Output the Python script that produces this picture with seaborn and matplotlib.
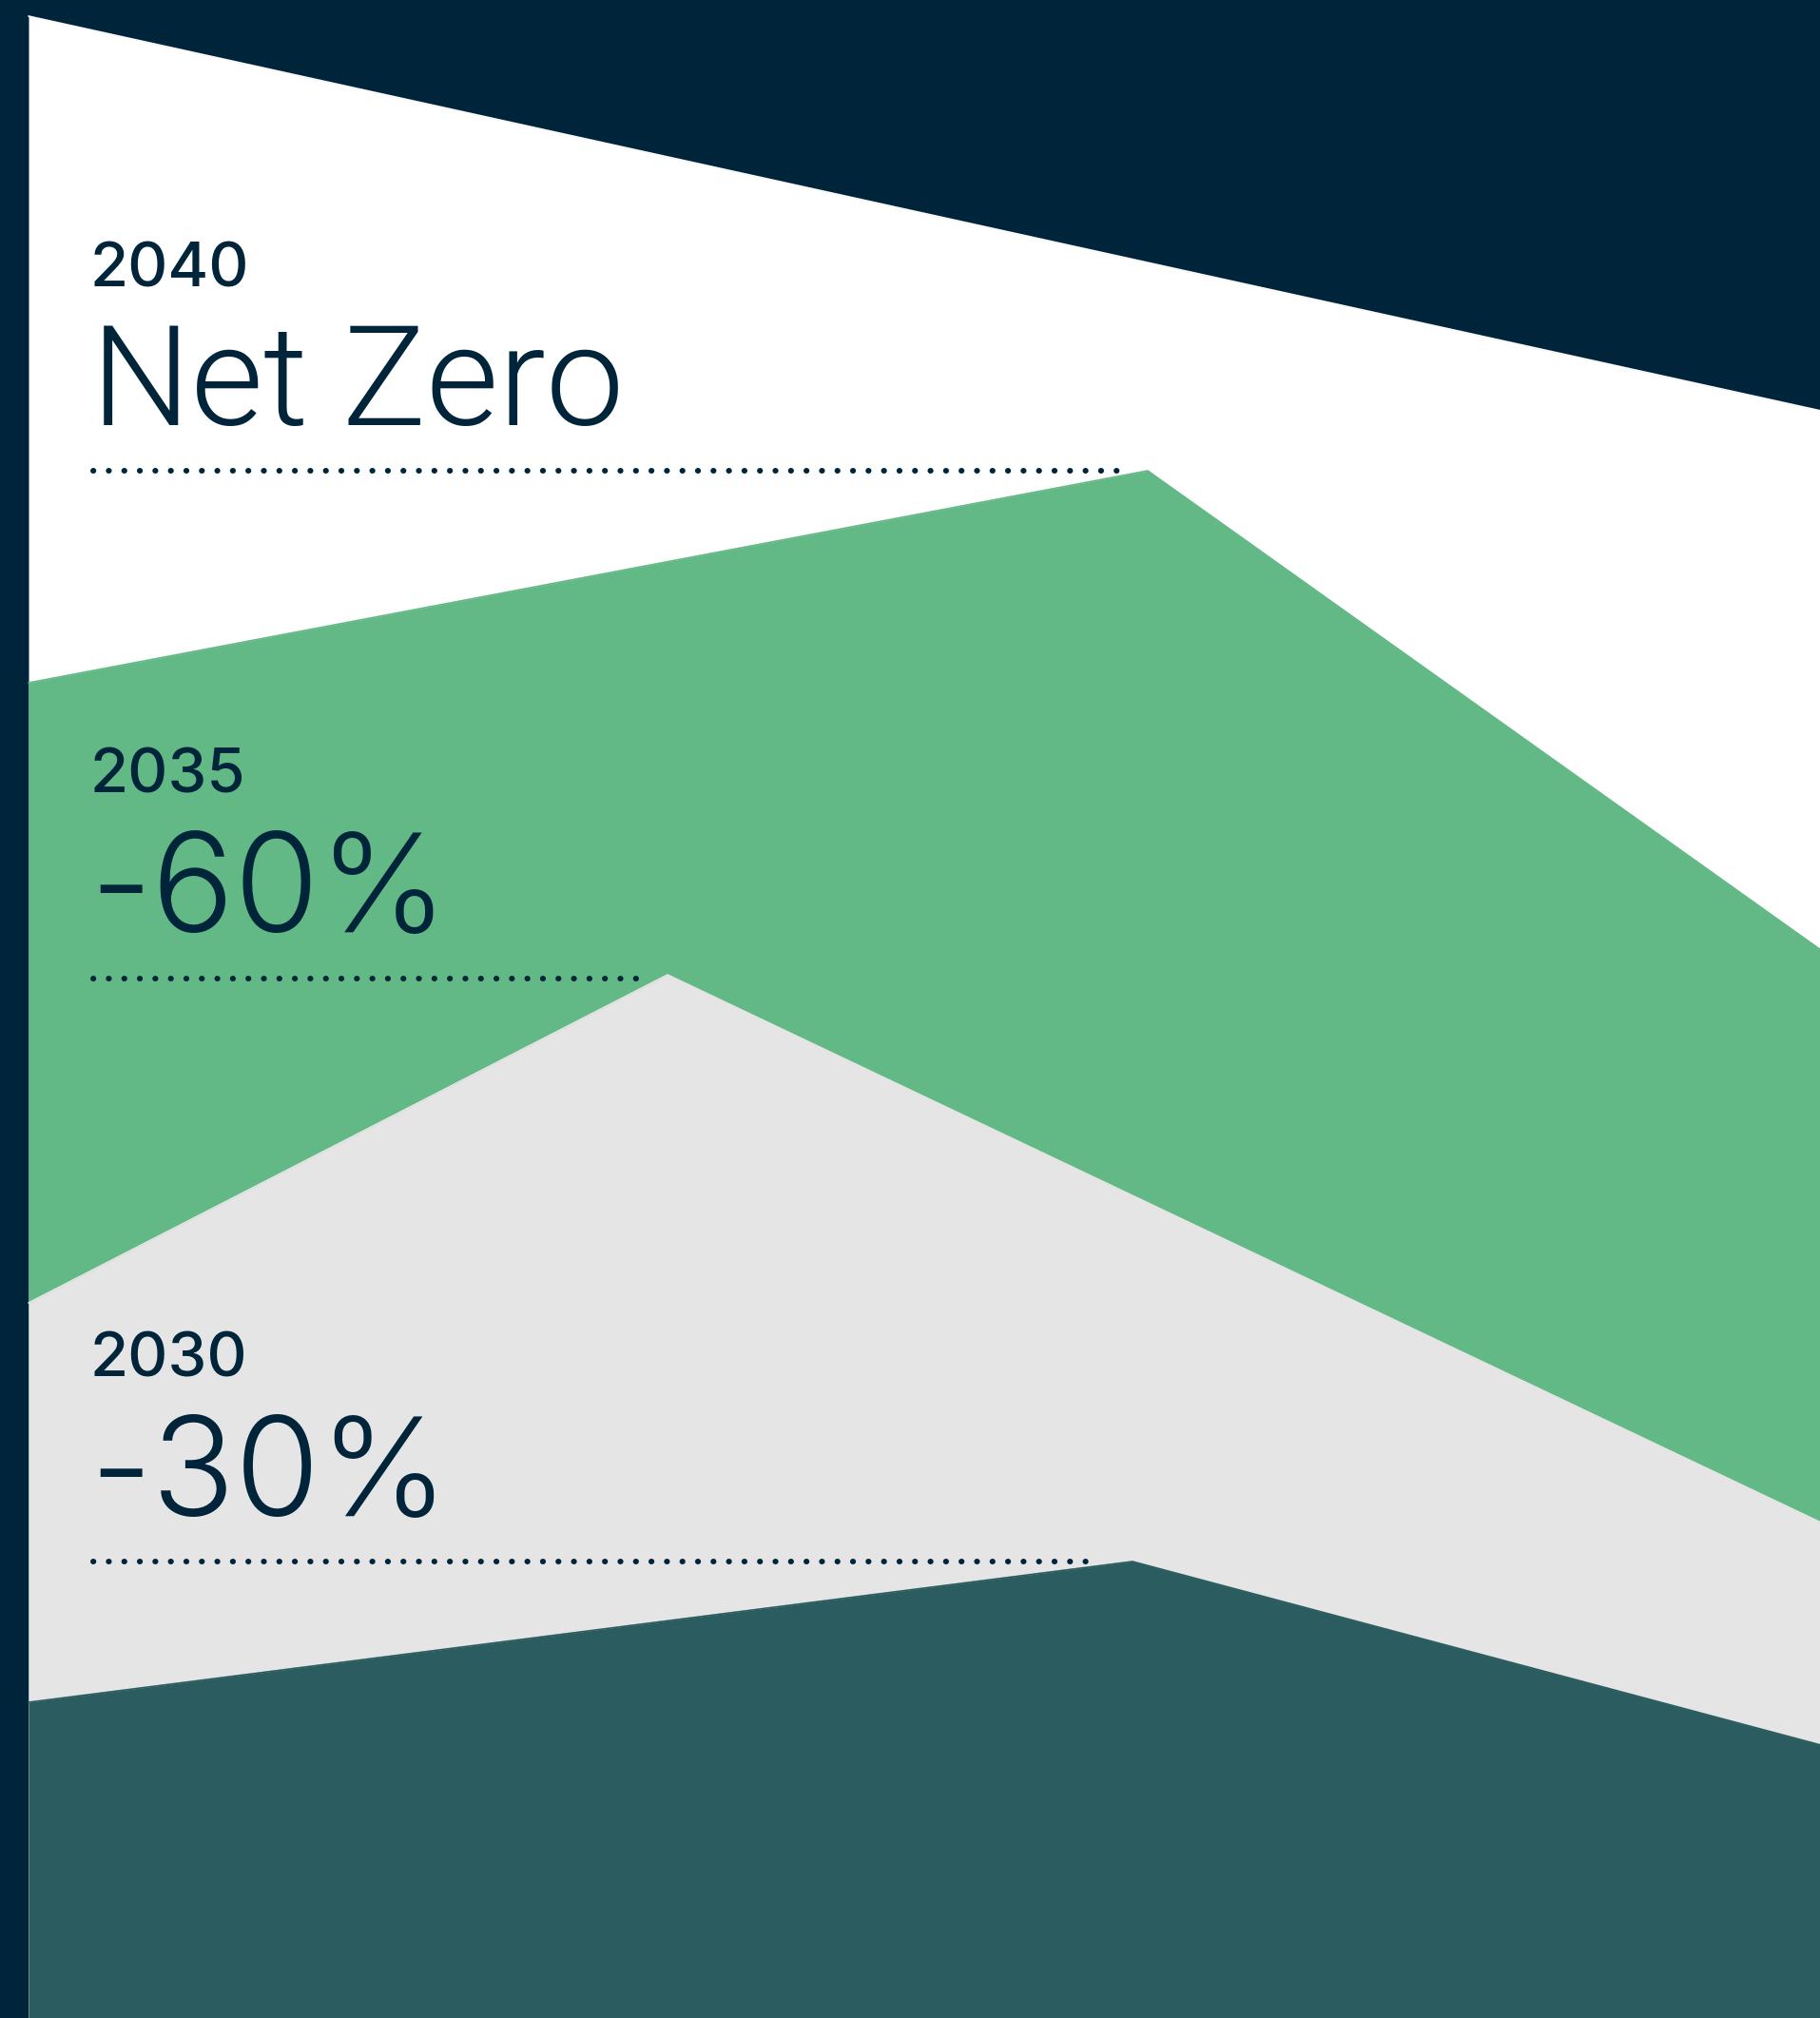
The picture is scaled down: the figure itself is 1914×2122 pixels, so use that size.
import matplotlib
matplotlib.use("Agg")
import matplotlib.pyplot as plt
import seaborn as sns
import numpy as np

# ---- data (boundary profiles of each band, canvas units, y grows downward) ----
band_names = ["2040 Net Zero", "2035 -60%", "2030 -30%", "today"]
band_x = [
    [30, 1915],
    [30, 1207, 1915],
    [30, 702, 1915],
    [30, 1191, 1915],
]
band_top = [
    [17, 432],
    [718, 495, 999],
    [1370, 1025, 1601],
    [1790, 1642, 1835],
]
band_colors = ["#ffffff", "#63b985", "#e5e5e5", "#2b5c60"]

years = ["2040", "2035", "2030"]
targets = ["Net Zero", "-60%", "-30%"]
year_baseline = [301, 833, 1447]
target_baseline = [447, 980, 1594]
guide_y = [495, 1029, 1642]
guide_x_end = [1177, 676, 1144]

NAVY = "#00243a"
W, H = 1915, 2122

sns.set_theme(style="white")
plt.rcParams["font.family"] = ["Liberation Sans", "DejaVu Sans"]

fig = plt.figure(figsize=(W / 100, H / 100), dpi=100, facecolor=NAVY)
ax = fig.add_axes([0, 0, 1, 1])
ax.set_facecolor(NAVY)
ax.set_xlim(0, W)
ax.set_ylim(H, 0)
ax.axis("off")

for i, (xs, ys, c) in enumerate(zip(band_x, band_top, band_colors)):
    ax.fill_between(xs, ys, H, color=c, linewidth=0, zorder=2 + i)
    sns.lineplot(x=xs, y=ys, ax=ax, color=c, linewidth=1.2, sort=False,
                 zorder=2 + i, solid_joinstyle="round", solid_capstyle="round")

# dotted guide lines
for gy, gx in zip(guide_y, guide_x_end):
    ax.plot([98, gx], [gy, gy], color=NAVY, linewidth=4.3,
            linestyle=(0, (0.05, 2.68)), dash_capstyle="round", zorder=10)

# labels
for yr, tg, yb, tb in zip(years, targets, year_baseline, target_baseline):
    ax.text(95, yb, yr, fontsize=47, color=NAVY, va="baseline", ha="left",
            family=["Inter", "Liberation Sans"], fontweight=500, zorder=11)
    if tg[0] == "-":
        ax.text(94, tb, tg, fontsize=104, color=NAVY, va="baseline", ha="left",
                family=["Inter", "Liberation Sans"], fontweight=300, zorder=11)
    else:
        ax.text(96, tb, tg, fontsize=106, color=NAVY, va="baseline", ha="left",
                family=["Roboto", "Liberation Sans"], fontweight=300, zorder=11)

fig.savefig("out.png", dpi=100, facecolor=NAVY)
